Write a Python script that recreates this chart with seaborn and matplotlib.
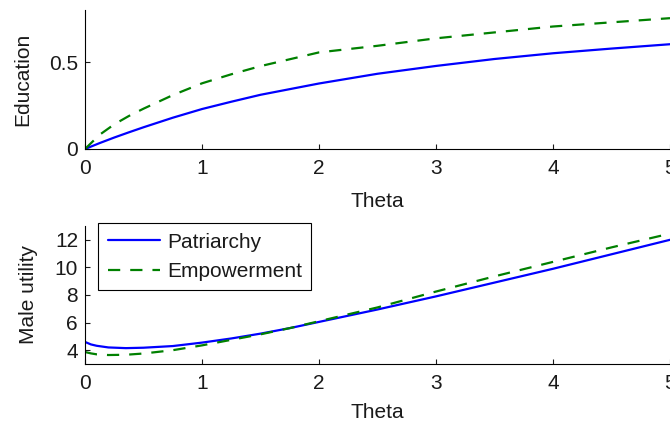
import numpy as np
import pandas as pd
import matplotlib
matplotlib.use("Agg")
import matplotlib.pyplot as plt
import seaborn as sns

# Values
theta_edu = [0, 0.125, 0.25, 0.375, 0.5, 0.75, 1, 1.25, 1.5, 2, 2.5, 3, 3.5, 4, 4.5, 5]
edu_patriarchy = [0, 0.034, 0.066, 0.096, 0.125, 0.18, 0.23, 0.272, 0.312, 0.377, 0.433, 0.478, 0.518, 0.551, 0.578, 0.603]
edu_empowerment = [0, 0.082, 0.142, 0.19, 0.232, 0.31, 0.378, 0.43, 0.477, 0.556, 0.594, 0.637, 0.671, 0.705, 0.729, 0.753]

theta_util = [0, 0.05, 0.1, 0.2, 0.35, 0.5, 0.75, 1, 1.25, 1.5, 1.75, 2, 2.5, 3, 3.5, 4, 4.5, 5]
util_patriarchy = [4.6, 4.42, 4.32, 4.2, 4.15, 4.18, 4.3, 4.55, 4.85, 5.2, 5.6, 6.05, 6.95, 7.9, 8.9, 9.9, 10.95, 12.0]
util_empowerment = [3.87, 3.77, 3.7, 3.65, 3.67, 3.76, 4.0, 4.35, 4.75, 5.15, 5.6, 6.1, 7.1, 8.25, 9.35, 10.4, 11.45, 12.45]

regimes = ["Patriarchy", "Empowerment"]

edu_df = pd.DataFrame({
    "Theta": theta_edu * 2,
    "Education": edu_patriarchy + edu_empowerment,
    "Regime": [regimes[0]] * len(theta_edu) + [regimes[1]] * len(theta_edu),
})
util_df = pd.DataFrame({
    "Theta": theta_util * 2,
    "Male utility": util_patriarchy + util_empowerment,
    "Regime": [regimes[0]] * len(theta_util) + [regimes[1]] * len(theta_util),
})

sns.set_style("ticks")
plt.rcParams["font.family"] = ["Liberation Sans", "DejaVu Sans"]
plt.rcParams["font.size"] = 15
plt.rcParams["xtick.direction"] = "in"
plt.rcParams["ytick.direction"] = "in"
plt.rcParams["text.color"] = "#1a1a1a"

palette = {"Patriarchy": (0, 0, 1), "Empowerment": (0, 0.5, 0)}
dashes = {"Patriarchy": "", "Empowerment": (5.5, 4.5)}

fig = plt.figure(figsize=(6.7, 4.22), dpi=100)
ax1 = fig.add_axes([85 / 670, 1 - 149 / 422, 585 / 670, 139 / 422])
ax2 = fig.add_axes([85 / 670, 1 - 364 / 422, 585 / 670, 138 / 422])

sns.lineplot(data=edu_df, x="Theta", y="Education", hue="Regime", style="Regime",
             palette=palette, dashes=dashes, linewidth=1.6, ax=ax1, legend=False)
sns.lineplot(data=util_df, x="Theta", y="Male utility", hue="Regime", style="Regime",
             palette=palette, dashes=dashes, linewidth=1.6, ax=ax2)

for ax in (ax1, ax2):
    ax.set_xlim(0, 5)
    ax.set_xticks([0, 1, 2, 3, 4, 5])
    sns.despine(ax=ax)
    for s in ("left", "bottom"):
        ax.spines[s].set_linewidth(0.8)
        ax.spines[s].set_color("black")
    ax.tick_params(length=3.6, width=0.8, labelsize=15, colors="#1a1a1a")
    ax.tick_params(axis="x", pad=7)
    ax.tick_params(axis="y", pad=5)
    ax.set_xlabel("Theta", fontsize=15, color="#1a1a1a")
    ax.set_ylabel(ax.get_ylabel(), fontsize=15, color="#1a1a1a")

ax1.set_ylim(0, 0.8)
ax1.set_yticks([0, 0.5])
ax1.set_yticklabels(["0", "0.5"])
ax2.set_ylim(3, 13)
ax2.set_yticks([4, 6, 8, 10, 12])

ax1.xaxis.set_label_coords(0.5, -0.307)
ax2.xaxis.set_label_coords(0.5, -0.283)
ax1.yaxis.set_label_coords(-0.0894, 0.5)
ax2.yaxis.set_label_coords(-0.081, 0.5)

leg = ax2.legend(loc="upper left", bbox_to_anchor=(0.0227, 1.0196), borderaxespad=0,
                 fontsize=15, fancybox=False, framealpha=1, edgecolor="black",
                 handlelength=2.53, handletextpad=0.32, labelspacing=0.5,
                 borderpad=0.45, title=None)
leg.get_frame().set_linewidth(0.8)

fig.savefig("out.png", dpi=100)
